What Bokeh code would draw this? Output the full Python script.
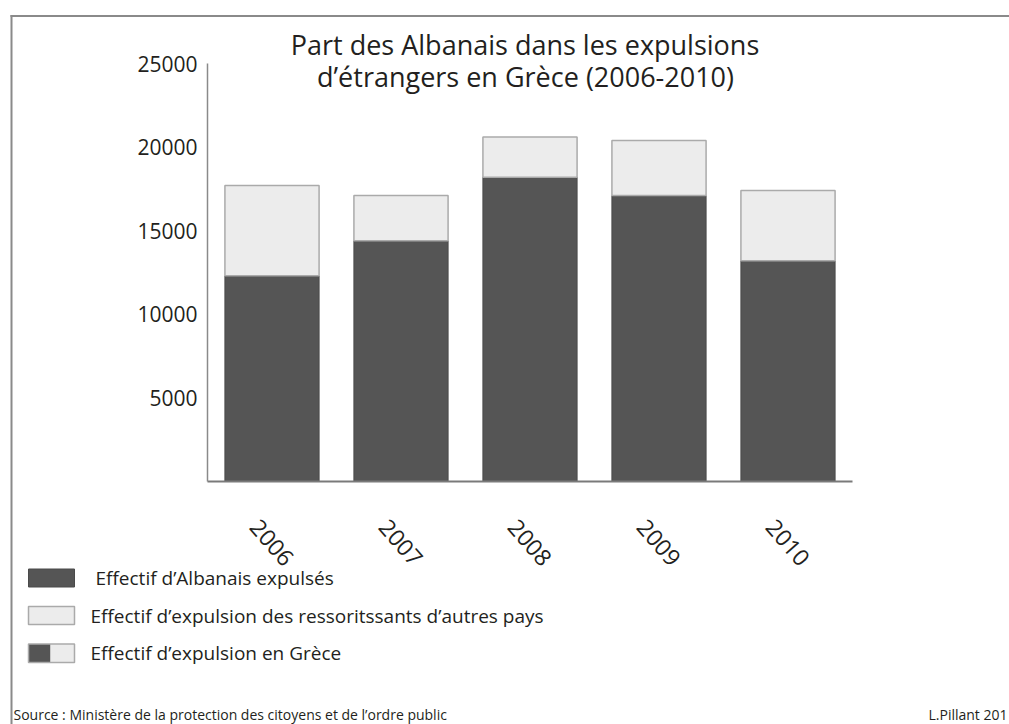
from bokeh.plotting import figure
from bokeh.models import Range1d, LinearAxis, FixedTicker, Label, BoxAnnotation, ColumnDataSource
from bokeh.core.properties import value
from bokeh.embed import file_html
from bokeh.resources import INLINE

# ---- data ----
years = ["2006", "2007", "2008", "2009", "2010"]
albanais = [12300, 14400, 18200, 17100, 13200]
total = [17700, 17100, 20600, 20400, 17400]
autres = [t - a for t, a in zip(total, albanais)]
y_ticks = [5000, 10000, 15000, 20000, 25000]
title_lines = ["Part des Albanais dans les expulsions", "d’étrangers en Grèce (2006-2010)"]
legend_labels = ["Effectif d’Albanais expulsés",
                 "Effectif d’expulsion des ressoritssants d’autres pays",
                 "Effectif d’expulsion en Grèce"]
source_text = "Source : Ministère de la protection des citoyens et de l’ordre public"
credit_text = "L.Pillant 201"

# ---- style / layout ----
FONT = "Open Sans"
TXT = "#231f20"
DARK = "#555555"
LIGHT = "#ececec"
EDGE = "#aaaaaa"
FRAME = "#8a8a8a"
W, H = 1009, 724

# canvas mapping: year 2006 centre at x=271.5 px, 129 px per year; y=0 at 481 px, 25000 at 63 px
PX_YEAR = 129.0
X0 = 2006 - 271.5 / PX_YEAR
X1 = 2006 + (W - 271.5) / PX_YEAR
PX_UNIT = (481 - 63) / 25000.0
Y1 = 25000 + 63 / PX_UNIT
Y0 = -(H - 481) / PX_UNIT

year_num = [int(y) for y in years]

p = figure(width=W, height=H, x_range=Range1d(X0, X1), y_range=Range1d(Y0, Y1),
           x_axis_location=None, y_axis_location=None,
           output_backend="svg", toolbar_location=None, min_border=0)
p.outline_line_color = None
p.grid.visible = False
p.background_fill_color = "white"
p.border_fill_color = "white"

src = ColumnDataSource(dict(year=year_num, albanais=albanais, autres=autres))
p.vbar_stack(["albanais", "autres"], x="year", width=0.73, source=src,
             fill_color=[DARK, LIGHT], line_color=["#4a4a4a", EDGE], line_width=[1, 1.5])

# y axis
ya = LinearAxis(fixed_location=2005.5, bounds=(0, 25000), ticker=FixedTicker(ticks=y_ticks))
ya.major_tick_line_color = None
ya.major_tick_out = 0
ya.major_tick_in = 0
ya.minor_tick_line_color = None
ya.axis_line_color = FRAME
ya.axis_line_width = 1.5
ya.major_label_standoff = 10
ya.major_label_text_font = FONT
ya.major_label_text_font_size = "21px"
ya.major_label_text_color = TXT
p.add_layout(ya, "left")

# x axis (baseline)
xa = LinearAxis(fixed_location=0, bounds=(2005.5, 2010.5), ticker=FixedTicker(ticks=[]))
xa.major_tick_line_color = None
xa.minor_tick_line_color = None
xa.axis_line_color = "#7a7a7a"
xa.axis_line_width = 2
p.add_layout(xa, "below")

# rotated year labels under each bar
p.text(x=year_num, y=-61 / PX_UNIT, text=years, angle=-0.85,
       text_align="center", text_baseline="middle",
       text_font=value(FONT), text_font_size="23px", text_color=TXT)

def txt(x, y, s, size, align="left"):
    p.add_layout(Label(x=x, y=y, x_units="canvas", y_units="canvas", text=s,
                       text_font=FONT, text_font_size=size, text_color=TXT,
                       text_align=align, text_baseline="alphabetic"))

def box(l, r, t, b, fill, line=None, lw=1):
    p.add_layout(BoxAnnotation(left=l, right=r, top=t, bottom=b,
                               left_units="canvas", right_units="canvas",
                               top_units="canvas", bottom_units="canvas",
                               fill_color=fill if fill else "white",
                               fill_alpha=1 if fill else 0,
                               line_color=line if line else "white",
                               line_width=lw, line_alpha=1 if line else 0))

# title
txt(524.5, 44, title_lines[0], "27px", "center")
txt(525, 76, title_lines[1], "27px", "center")

# frame lines (top and left)
box(10, W, 14.5, 16.5, FRAME)
box(10, 12, 14.5, H, FRAME)

# legend swatches
box(28, 74, 568.5, 586.5, DARK, "#4a4a4a", 1)
box(28, 74, 606, 624, LIGHT, EDGE, 1.5)
box(28, 50, 643.5, 662, DARK)
box(50, 74, 643.5, 662, LIGHT)
box(28, 74, 643.5, 662, None, EDGE, 1.5)

txt(95, 577, legend_labels[0], "19px")
txt(90, 615.5, legend_labels[1], "19px")
txt(90, 652.5, legend_labels[2], "19px")

# footer
txt(13, 714, source_text, "14px")
txt(1007, 714, credit_text, "14px", "right")

open("out.html", "w").write(file_html(p, INLINE))
